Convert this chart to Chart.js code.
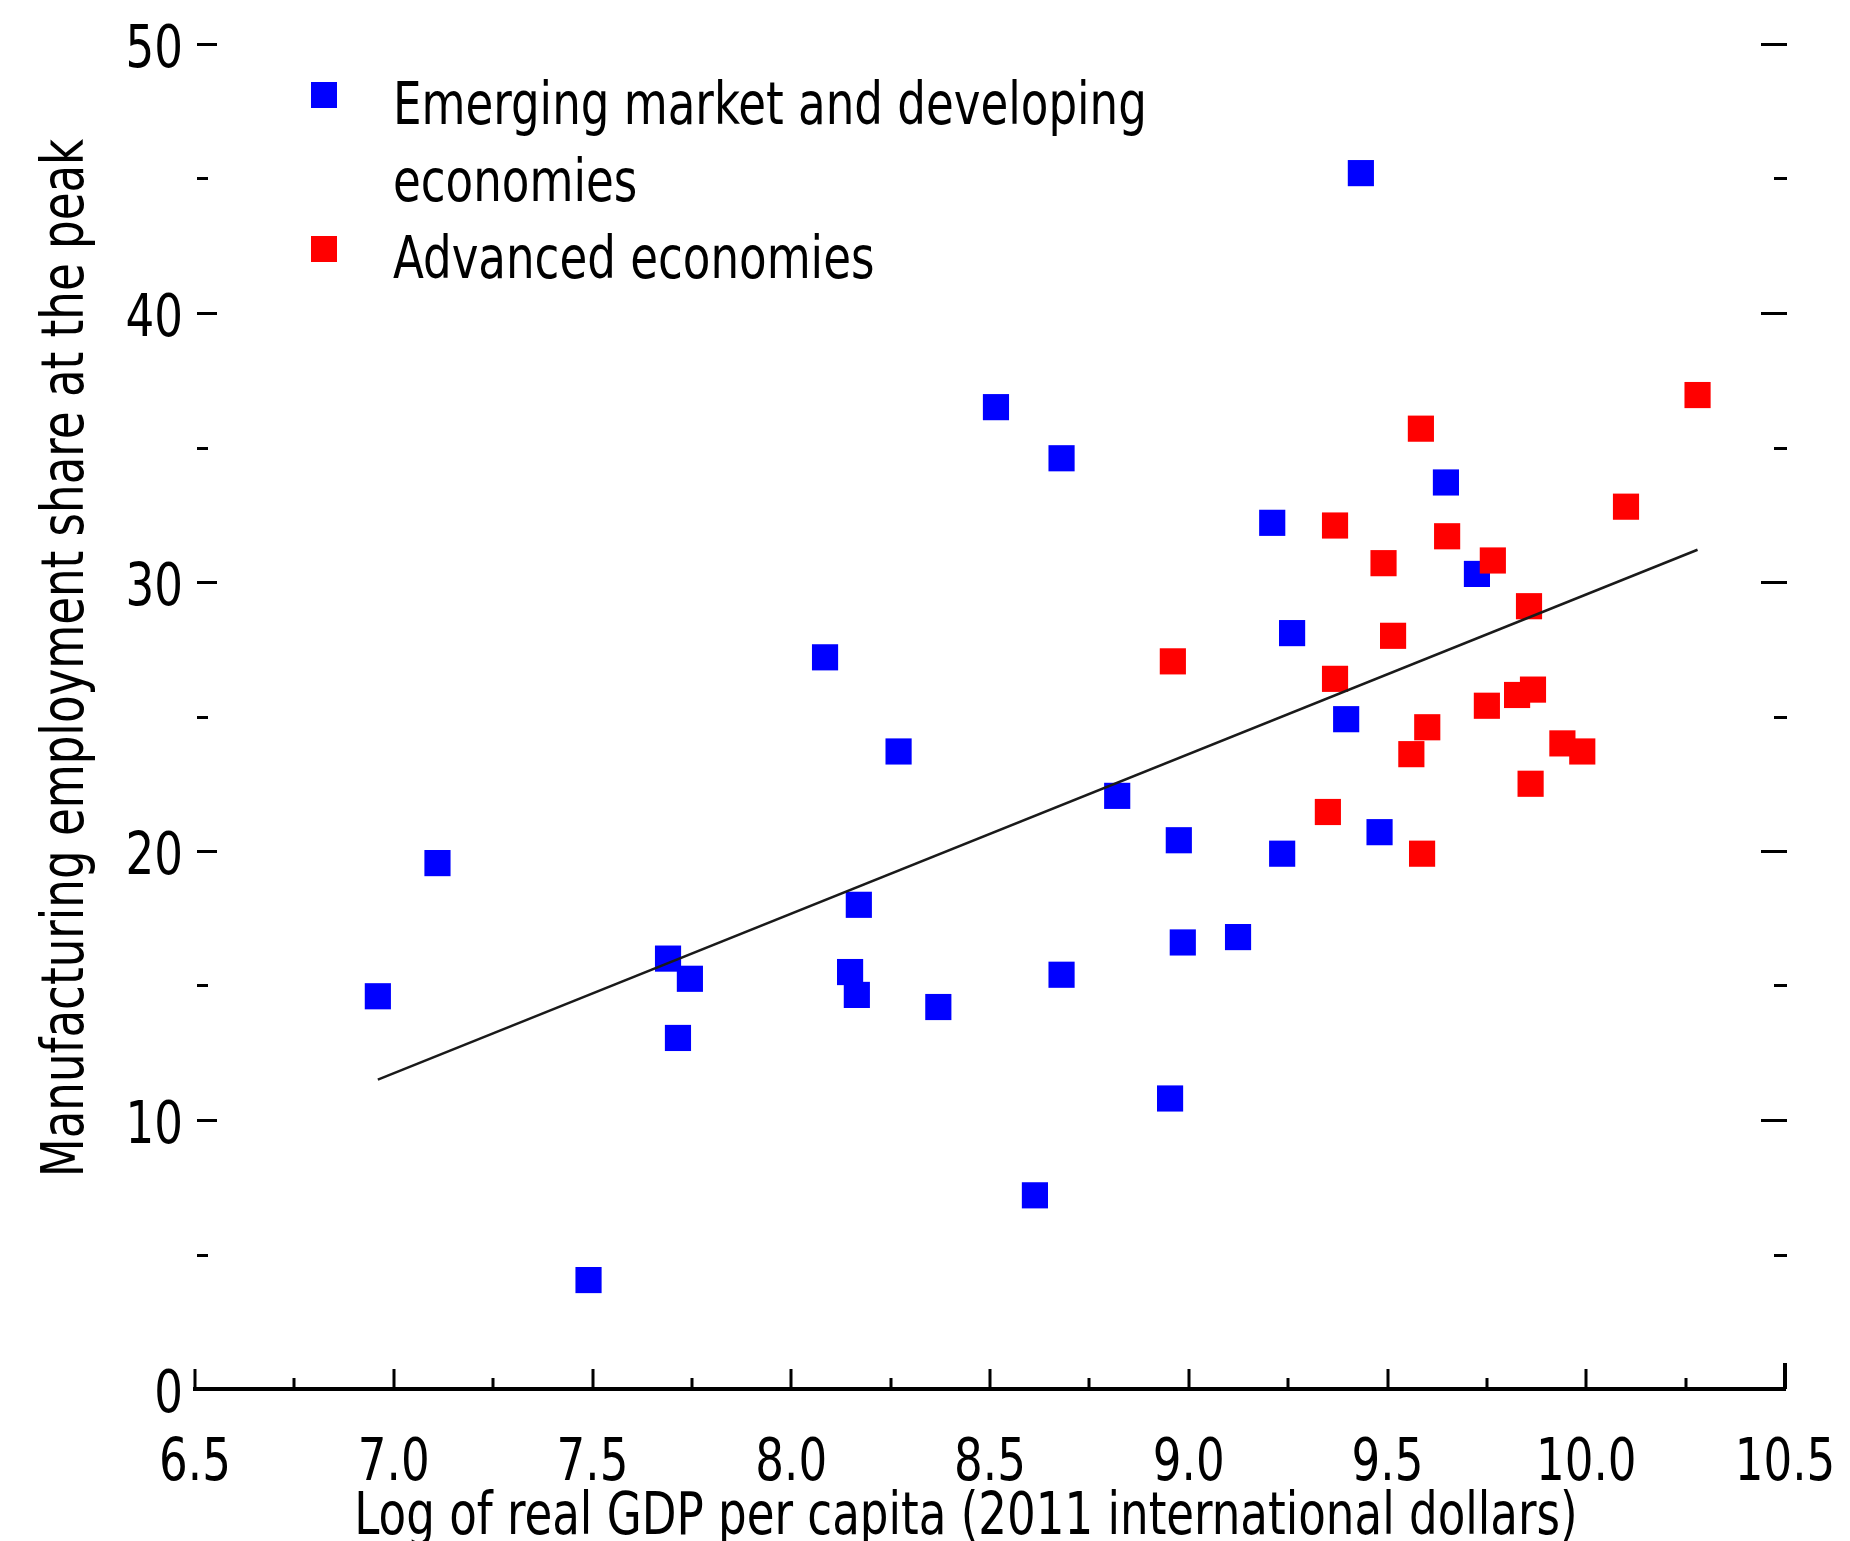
<!DOCTYPE html>
<html>
<head>
<meta charset="utf-8">
<title>Manufacturing employment share at the peak</title>
<script src="https://cdn.jsdelivr.net/npm/chart.js@4.4.0/dist/chart.umd.min.js"></script>
<style>
    html, body { margin: 0; padding: 0; background: #fff; }
    #wrap { width: 1850px; height: 1541px; position: relative; }
</style>
</head>
<body>
<div id="wrap"><canvas id="peak_scatter"></canvas></div>
<script>
// values
var emergingX = [6.96, 7.11, 7.49, 7.69, 7.715, 7.745, 8.085, 8.148, 8.165, 8.17, 8.27, 8.37, 8.515, 8.613, 8.68, 8.68, 8.82, 8.953, 8.975, 8.985, 9.124, 9.21, 9.235, 9.26, 9.396, 9.433, 9.48, 9.647, 9.725];
var emergingY = [14.6, 19.55, 4.05, 16.0, 13.05, 15.25, 27.2, 15.5, 14.65, 18.0, 23.7, 14.2, 36.5, 7.2, 34.6, 15.4, 22.05, 10.8, 20.4, 16.6, 16.8, 32.2, 19.9, 28.1, 24.9, 45.2, 20.7, 33.7, 30.3];
var advancedX = [8.96, 9.35, 9.368, 9.368, 9.49, 9.514, 9.56, 9.584, 9.587, 9.60, 9.65, 9.75, 9.765, 9.826, 9.856, 9.86, 9.866, 9.94, 9.99, 10.10, 10.28];
var advancedY = [27.05, 21.45, 32.1, 26.4, 30.7, 28.0, 23.6, 35.7, 19.9, 24.6, 31.7, 25.4, 30.8, 25.8, 29.1, 22.5, 26.0, 24.0, 23.7, 32.8, 36.95];
var fitX = [6.96, 10.28];
var fitY = [11.5, 31.2];

var xTickValues = [6.5, 7.0, 7.5, 8.0, 8.5, 9.0, 9.5, 10.0, 10.5];
var xTickLabels = ["6.5", "7.0", "7.5", "8.0", "8.5", "9.0", "9.5", "10.0", "10.5"];
var yTickValues = [0, 10, 20, 30, 40, 50];
var yTickLabels = ["0", "10", "20", "30", "40", "50"];

var legendLines = [["Emerging market and developing", "economies"], ["Advanced economies"]];
var xTitle = "Log of real GDP per capita (2011 international dollars)";
var yTitle = "Manufacturing employment share at the peak";

var FONT = "'DejaVu Sans Condensed', 'DejaVu Sans', sans-serif";
var TEXT_SQUEEZE = 0.865; // the original face is narrower than DejaVu Condensed
var BLUE = "#0000ff";
var RED = "#ff0000";

var toPoints = function (xs, ys) {
    return xs.map(function (x, i) { return {x: x, y: ys[i]}; });
};

var midpoints = function (vals) {
    var out = [];
    for (var i = 0; i < vals.length - 1; i++) out.push((vals[i] + vals[i + 1]) / 2);
    return out;
};

var narrowText = function (ctx, text, x, y, align, angle) {
    ctx.save();
    ctx.translate(x, y);
    if (angle) ctx.rotate(angle);
    ctx.scale(TEXT_SQUEEZE, 1);
    ctx.textAlign = align;
    ctx.textBaseline = "alphabetic";
    ctx.fillText(text, 0, 0);
    ctx.restore();
};

// inward tick marks, tick labels, titles and the legend inside the plot
var decorations = {
    id: 'decorations',
    afterDraw: function (chart) {
        var ctx = chart.ctx;
        var area = chart.chartArea;
        var xs = chart.scales.x;
        var ys = chart.scales.y;

        ctx.save();
        ctx.strokeStyle = "#000";
        ctx.lineCap = "butt";

        var xLine = function (v, len, w) {
            var px = Math.round(xs.getPixelForValue(v));
            ctx.lineWidth = w || 3;
            ctx.beginPath();
            ctx.moveTo(px, area.bottom);
            ctx.lineTo(px, area.bottom - len);
            ctx.stroke();
        };
        xTickValues.forEach(function (v, i) {
            if (i === xTickValues.length - 1) xLine(v, 26, 4);
            else xLine(v, 20);
        });
        midpoints(xTickValues).forEach(function (v) { xLine(v, 11); });

        var yLine = function (v, lenL, lenR) {
            var py = Math.round(ys.getPixelForValue(v)) + 0.5;
            ctx.lineWidth = 3;
            ctx.beginPath();
            ctx.moveTo(area.left + 2, py);
            ctx.lineTo(area.left + 2 + lenL, py);
            ctx.moveTo(area.right + 2 - lenR, py);
            ctx.lineTo(area.right + 2, py);
            ctx.stroke();
        };
        yTickValues.forEach(function (v) { if (v > 0) yLine(v, 20, 26); });
        midpoints(yTickValues).forEach(function (v) { yLine(v, 11, 13); });

        ctx.fillStyle = "#000";
        ctx.font = "58px " + FONT;

        // tick labels
        xTickValues.forEach(function (v, i) {
            narrowText(ctx, xTickLabels[i], xs.getPixelForValue(v), area.bottom + 91, "center");
        });
        yTickValues.forEach(function (v, i) {
            narrowText(ctx, yTickLabels[i], area.left - 12, ys.getPixelForValue(v) + 23, "right");
        });

        // axis titles
        narrowText(ctx, xTitle, area.left + 771, area.bottom + 145, "center");
        narrowText(ctx, yTitle, area.left - 112, area.top + 614, "center", -Math.PI / 2);

        // legend
        var colors = [BLUE, RED];
        var lineY = area.top + 80;
        legendLines.forEach(function (lines, k) {
            ctx.fillStyle = colors[k];
            ctx.fillRect(area.left + 116, lineY - 42, 26, 26);
            ctx.fillStyle = "#000";
            lines.forEach(function (t) {
                narrowText(ctx, t, area.left + 198, lineY, "left");
                lineY += 77;
            });
        });
        ctx.restore();
    }
};

var ctx_peak = document.getElementById("peak_scatter");
var peak_chart = new Chart(ctx_peak, {
    type: 'scatter',
    data: {
        datasets: [{
            type: 'line',
            label: "Fit",
            data: toPoints(fitX, fitY),
            borderColor: "#1a1a1a",
            borderWidth: 2.5,
            pointRadius: 0,
            fill: false,
            order: 0
        }, {
            label: "Advanced economies",
            data: toPoints(advancedX, advancedY),
            pointStyle: 'rect',
            pointRadius: 18.5,
            pointBorderWidth: 0,
            backgroundColor: RED,
            borderColor: RED,
            order: 1
        }, {
            label: "Emerging market and developing economies",
            data: toPoints(emergingX, emergingY),
            pointStyle: 'rect',
            pointRadius: 18.5,
            pointBorderWidth: 0,
            backgroundColor: BLUE,
            borderColor: BLUE,
            order: 2
        }]
    },
    options: {
        responsive: true,
        maintainAspectRatio: false,
        animation: false,
        events: [],
        layout: {padding: {top: 44, right: 65, bottom: 0, left: 0}},
        plugins: {
            legend: {display: false},
            tooltip: {enabled: false}
        },
        scales: {
            x: {
                type: 'linear',
                position: 'bottom',
                min: 6.5,
                max: 10.5,
                afterBuildTicks: function (s) {
                    s.ticks = xTickValues.map(function (v) { return {value: v}; });
                },
                afterFit: function (s) {
                    s.height = 152;
                    s.paddingLeft = 0;
                    s.paddingRight = 0;
                },
                ticks: {display: false},
                grid: {display: false, drawTicks: false},
                border: {display: true, color: "#000", width: 4}
            },
            y: {
                type: 'linear',
                position: 'left',
                min: 0,
                max: 50,
                afterBuildTicks: function (s) {
                    s.ticks = yTickValues.map(function (v) { return {value: v}; });
                },
                afterFit: function (s) {
                    s.width = 195;
                    s.paddingTop = 0;
                    s.paddingBottom = 0;
                },
                ticks: {display: false},
                grid: {display: false, drawTicks: false},
                border: {display: false}
            }
        }
    },
    plugins: [decorations]
});
</script>
</body>
</html>
